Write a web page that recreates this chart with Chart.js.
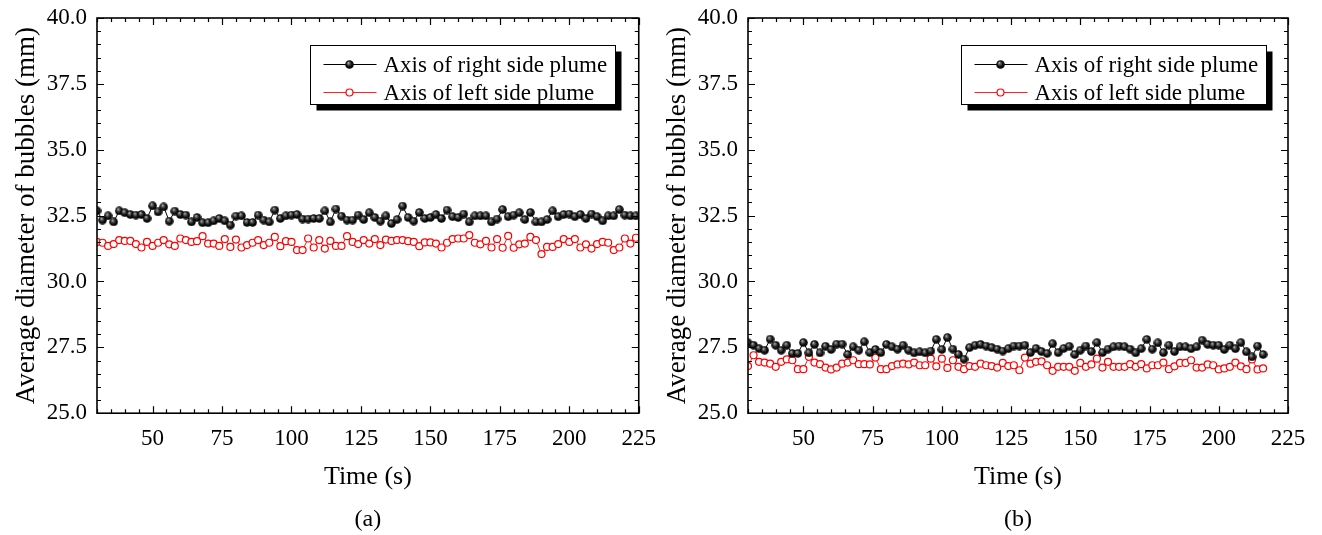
<!DOCTYPE html>
<html>
<head>
<meta charset="utf-8">
<script src="https://cdn.jsdelivr.net/npm/chart.js@4.4.1/dist/chart.umd.min.js"></script>
<style>
  html, body { margin: 0; padding: 0; background: #fff; }
  body { width: 1322px; height: 535px; position: relative; overflow: hidden; }
  canvas { position: absolute; top: 0; }
  #chartA { left: 0; }
  #chartB { left: 651px; }
</style>
</head>
<body>
<canvas id="chartA" width="668" height="535"></canvas>
<canvas id="chartB" width="671" height="535"></canvas>
<script>
// ---- data ----
const timeA = [30, 32, 34, 36, 38, 40, 42, 44, 46, 48, 50, 52, 54, 56, 58, 60, 62, 64, 66, 68,
  70, 72, 74, 76, 78, 80, 82, 84, 86, 88, 90, 92, 94, 96, 98, 100, 102, 104, 106, 108,
  110, 112, 114, 116, 118, 120, 122, 124, 126, 128, 130, 132, 134, 136, 138, 140, 142, 144, 146, 148,
  150, 152, 154, 156, 158, 160, 162, 164, 166, 168, 170, 172, 174, 176, 178, 180, 182, 184, 186, 188,
  190, 192, 194, 196, 198, 200, 202, 204, 206, 208, 210, 212, 214, 216, 218, 220, 222, 224];

const rightPlumeA = [32.68, 32.33, 32.49, 32.26, 32.68, 32.61, 32.54, 32.52, 32.54, 32.39,
  32.87, 32.64, 32.83, 32.29, 32.67, 32.54, 32.52, 32.26, 32.43, 32.23,
  32.23, 32.30, 32.39, 32.30, 32.14, 32.48, 32.49, 32.24, 32.24, 32.52,
  32.33, 32.26, 32.71, 32.39, 32.49, 32.52, 32.54, 32.37, 32.37, 32.39,
  32.39, 32.68, 32.26, 32.75, 32.48, 32.33, 32.33, 32.52, 32.35, 32.61,
  32.43, 32.29, 32.49, 32.20, 32.35, 32.86, 32.43, 32.29, 32.62, 32.39,
  32.43, 32.54, 32.39, 32.71, 32.46, 32.43, 32.56, 32.26, 32.49, 32.49,
  32.49, 32.26, 32.37, 32.73, 32.46, 32.52, 32.61, 32.35, 32.62, 32.26,
  32.26, 32.35, 32.68, 32.46, 32.54, 32.56, 32.46, 32.54, 32.39, 32.56,
  32.46, 32.30, 32.49, 32.49, 32.73, 32.52, 32.49, 32.49];

const leftPlumeA = [31.50, 31.47, 31.35, 31.42, 31.57, 31.54, 31.54, 31.42, 31.29, 31.50,
  31.35, 31.47, 31.57, 31.41, 31.35, 31.63, 31.57, 31.50, 31.53, 31.72,
  31.44, 31.44, 31.35, 31.61, 31.31, 31.59, 31.29, 31.38, 31.47, 31.57,
  31.38, 31.47, 31.69, 31.34, 31.53, 31.50, 31.19, 31.19, 31.63, 31.29,
  31.57, 31.25, 31.54, 31.35, 31.35, 31.72, 31.50, 31.42, 31.57, 31.44,
  31.61, 31.38, 31.59, 31.54, 31.57, 31.57, 31.53, 31.50, 31.34, 31.48,
  31.48, 31.44, 31.29, 31.47, 31.61, 31.63, 31.63, 31.76, 31.47, 31.41,
  31.54, 31.29, 31.61, 31.28, 31.73, 31.28, 31.41, 31.44, 31.69, 31.57,
  31.04, 31.31, 31.31, 31.42, 31.61, 31.50, 31.61, 31.29, 31.41, 31.25,
  31.42, 31.50, 31.47, 31.19, 31.29, 31.63, 31.44, 31.66];

const timeB = [30, 32, 34, 36, 38, 40, 42, 44, 46, 48, 50, 52, 54, 56, 58, 60, 62, 64, 66, 68,
  70, 72, 74, 76, 78, 80, 82, 84, 86, 88, 90, 92, 94, 96, 98, 100, 102, 104, 106, 108,
  110, 112, 114, 116, 118, 120, 122, 124, 126, 128, 130, 132, 134, 136, 138, 140, 142, 144, 146, 148,
  150, 152, 154, 156, 158, 160, 162, 164, 166, 168, 170, 172, 174, 176, 178, 180, 182, 184, 186, 188,
  190, 192, 194, 196, 198, 200, 202, 204, 206, 208, 210, 212, 214, 216];

const rightPlumeB = [27.67, 27.58, 27.45, 27.39, 27.81, 27.58, 27.39, 27.58, 27.27, 27.27,
  27.68, 27.29, 27.61, 27.29, 27.54, 27.42, 27.62, 27.62, 27.23, 27.52,
  27.39, 27.71, 27.30, 27.42, 27.30, 27.61, 27.52, 27.43, 27.58, 27.39,
  27.29, 27.33, 27.29, 27.36, 27.80, 27.42, 27.87, 27.43, 27.23, 27.05,
  27.49, 27.58, 27.61, 27.55, 27.49, 27.43, 27.36, 27.45, 27.55, 27.55,
  27.58, 27.30, 27.46, 27.34, 27.27, 27.64, 27.30, 27.46, 27.54, 27.23,
  27.39, 27.55, 27.34, 27.68, 27.30, 27.43, 27.52, 27.55, 27.52, 27.43,
  27.29, 27.45, 27.80, 27.43, 27.67, 27.30, 27.58, 27.34, 27.52, 27.52,
  27.45, 27.52, 27.77, 27.61, 27.58, 27.58, 27.42, 27.58, 27.45, 27.68,
  27.33, 27.14, 27.55, 27.23];

const leftPlumeB = [26.79, 27.20, 26.95, 26.92, 26.88, 26.76, 26.95, 27.04, 27.01, 26.67,
  26.67, 27.14, 26.92, 26.86, 26.73, 26.66, 26.73, 26.88, 26.92, 27.01,
  26.86, 26.86, 26.85, 27.11, 26.67, 26.67, 26.79, 26.85, 26.88, 26.85,
  26.92, 26.82, 26.82, 27.07, 26.78, 27.07, 26.72, 27.01, 26.76, 26.67,
  26.79, 26.76, 26.88, 26.82, 26.79, 26.73, 26.91, 26.79, 26.82, 26.63,
  27.11, 26.88, 26.95, 26.97, 26.82, 26.61, 26.76, 26.76, 26.76, 26.61,
  26.91, 26.76, 26.85, 27.07, 26.73, 26.95, 26.76, 26.76, 26.76, 26.86,
  26.76, 26.86, 26.70, 26.82, 26.82, 26.92, 26.67, 26.78, 26.91, 26.91,
  27.01, 26.73, 26.73, 26.85, 26.82, 26.66, 26.70, 26.76, 26.92, 26.78,
  26.67, 27.04, 26.66, 26.70];

const seriesNames = ['Axis of right side plume', 'Axis of left side plume'];
const xTicks = [50, 75, 100, 125, 150, 175, 200, 225];
const yTicks = [25, 27.5, 30, 32.5, 35, 37.5, 40];

// ---- axis settings ----
const X_MIN = 30, X_MAX = 225, X_MINOR = 5;
const Y_MIN = 25, Y_MAX = 40, Y_MINOR = 0.5;
const FONT = "'Liberation Serif', 'Times New Roman', serif";

Chart.defaults.font.family = FONT;
Chart.defaults.color = '#000';

// shaded ball marker for the right-side series
function makeBall(d) {
  const c = document.createElement('canvas');
  c.width = c.height = d;
  const g = c.getContext('2d');
  const r = d / 2;
  const grad = g.createRadialGradient(r * 0.7, r * 0.6, 0, r, r, r);
  grad.addColorStop(0, '#d4d4d4');
  grad.addColorStop(0.25, '#6a6a6a');
  grad.addColorStop(0.6, '#141414');
  grad.addColorStop(1, '#000');
  g.fillStyle = grad;
  g.beginPath();
  g.arc(r, r, r - 0.2, 0, Math.PI * 2);
  g.fill();
  return c;
}
const ball = makeBall(9);

function near(list, v) { return list.some(t => Math.abs(t - v) < 1e-6); }

// box frame with inward ticks on all four sides
const framePlugin = {
  id: 'frame',
  afterDatasetsDraw(chart) {
    const { ctx, chartArea: a, scales: { x, y } } = chart;
    const MAJOR = 7, MINOR = 4;
    ctx.save();
    ctx.strokeStyle = '#000';
    ctx.lineWidth = 1.2;
    ctx.beginPath();
    for (let v = X_MIN; v <= X_MAX + 1e-6; v += X_MINOR) {
      const px = Math.round(x.getPixelForValue(v)) + 0.5;
      const len = near(xTicks, v) ? MAJOR : MINOR;
      ctx.moveTo(px, a.bottom); ctx.lineTo(px, a.bottom - len);
      ctx.moveTo(px, a.top); ctx.lineTo(px, a.top + len);
    }
    for (let v = Y_MIN; v <= Y_MAX + 1e-6; v += Y_MINOR) {
      const py = Math.round(y.getPixelForValue(v)) + 0.5;
      const len = near(yTicks, v) ? MAJOR : MINOR;
      ctx.moveTo(a.left, py); ctx.lineTo(a.left + len, py);
      ctx.moveTo(a.right, py); ctx.lineTo(a.right - len, py);
    }
    ctx.stroke();
    ctx.lineWidth = 1.6;
    ctx.strokeRect(a.left, a.top, a.right - a.left, a.bottom - a.top);
    ctx.restore();
  }
};

// legend box with drop shadow inside the plot area
const boxLegendPlugin = {
  id: 'boxLegend',
  afterDraw(chart) {
    const { ctx, chartArea: a } = chart;
    const bx = Math.round(a.left + 213) + 0.5, by = Math.round(a.top + 27) + 0.5;
    const w = 305, h = 59;
    ctx.save();
    ctx.fillStyle = '#000';
    ctx.fillRect(bx + 6, by + 6, w, h);
    ctx.fillStyle = '#fff';
    ctx.fillRect(bx, by, w, h);
    ctx.strokeStyle = '#000';
    ctx.lineWidth = 1;
    ctx.strokeRect(bx, by, w, h);
    const rows = [by + 19, by + 47];
    chart.data.datasets.forEach((ds, i) => {
      const ry = rows[i];
      ctx.strokeStyle = ds.borderColor;
      ctx.lineWidth = 1.2;
      ctx.beginPath();
      ctx.moveTo(bx + 13, ry);
      ctx.lineTo(bx + 66, ry);
      ctx.stroke();
      const mx = bx + 39;
      if (ds.pointStyle === ball) {
        ctx.drawImage(ball, mx - ball.width / 2, ry - ball.height / 2);
      } else {
        ctx.fillStyle = ds.pointBackgroundColor;
        ctx.strokeStyle = ds.pointBorderColor;
        ctx.lineWidth = ds.pointBorderWidth;
        ctx.beginPath();
        ctx.arc(mx, ry, ds.pointRadius, 0, Math.PI * 2);
        ctx.fill();
        ctx.stroke();
      }
      ctx.fillStyle = '#000';
      ctx.font = '23px ' + FONT;
      ctx.textBaseline = 'middle';
      ctx.textAlign = 'left';
      ctx.fillText(ds.label, bx + 73, ry + 1);
    });
    ctx.restore();
  }
};

function toPoints(t, v) { return t.map((tt, i) => ({ x: tt, y: v[i] })); }

function buildChart(id, time, right, left, panelLabel, rightPad) {
  return new Chart(document.getElementById(id), {
    type: 'line',
    data: {
      datasets: [
        {
          label: seriesNames[0],
          data: toPoints(time, right),
          borderColor: '#000',
          borderWidth: 1,
          pointStyle: ball,
          pointRadius: 4,
          tension: 0
        },
        {
          label: seriesNames[1],
          data: toPoints(time, left),
          borderColor: '#ff2020',
          borderWidth: 1,
          pointStyle: 'circle',
          pointRadius: 3.5,
          pointBorderWidth: 1.2,
          pointBorderColor: '#ff0000',
          pointBackgroundColor: '#ffffff',
          tension: 0
        }
      ]
    },
    options: {
      responsive: false,
      animation: false,
      events: [],
      layout: { padding: { top: 18, left: 0, right: rightPad, bottom: 0 } },
      scales: {
        x: {
          type: 'linear',
          min: X_MIN,
          max: X_MAX,
          afterBuildTicks: s => { s.ticks = xTicks.map(v => ({ value: v })); },
          afterFit: s => { s.height = 80; },
          grid: { display: false, drawTicks: false },
          border: { display: false },
          ticks: { font: { size: 23 }, color: '#000', padding: 12, maxRotation: 0, autoSkip: false },
          title: { display: true, text: 'Time (s)', font: { size: 26 }, color: '#000', padding: { top: 0, bottom: 0 } }
        },
        y: {
          type: 'linear',
          min: Y_MIN,
          max: Y_MAX,
          afterBuildTicks: s => { s.ticks = yTicks.map(v => ({ value: v })); },
          afterFit: s => { s.width = 97; },
          grid: { display: false, drawTicks: false },
          border: { display: false },
          ticks: { font: { size: 23, lineHeight: 0.3 }, color: '#000', padding: 10, autoSkip: false,
                   callback: v => Number(v).toFixed(1) },
          title: { display: true, text: 'Average diameter of bubbles (mm)', font: { size: 27 }, color: '#000',
                   padding: { top: 11, bottom: 0 } }
        }
      },
      plugins: {
        legend: { display: false },
        tooltip: { enabled: false },
        title: {
          display: true,
          fullSize: false,
          text: panelLabel,
          position: 'bottom',
          font: { size: 24, weight: 'normal' },
          color: '#000',
          padding: { top: 12, bottom: 1 }
        }
      }
    },
    plugins: [framePlugin, boxLegendPlugin]
  });
}

buildChart('chartA', timeA, rightPlumeA, leftPlumeA, '(a)', 0);
buildChart('chartB', timeB, rightPlumeB, leftPlumeB, '(b)', 34);
</script>
</body>
</html>
